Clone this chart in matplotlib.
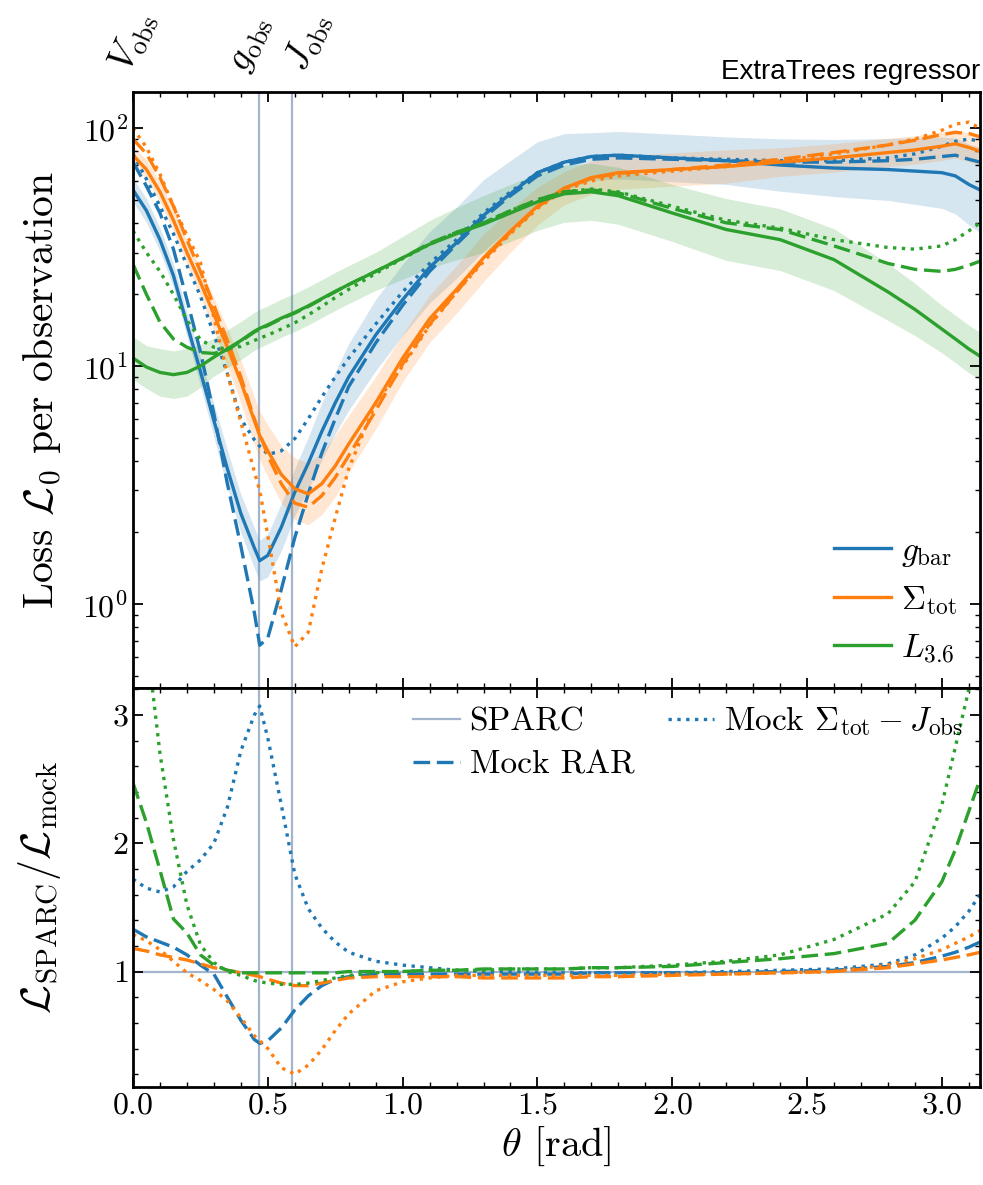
import numpy as np
import matplotlib.pyplot as plt
from matplotlib.ticker import MultipleLocator, LogLocator, NullFormatter

plt.rcParams.update({
    'font.family': 'serif',
    'font.serif': ['cmr10'],
    'mathtext.fontset': 'cm',
    'axes.formatter.use_mathtext': True,
    'axes.linewidth': 2.0,
    'xtick.direction': 'in',
    'ytick.direction': 'in',
    'xtick.top': True,
    'ytick.right': True,
    'xtick.major.size': 7,
    'ytick.major.size': 7,
    'xtick.minor.size': 3.5,
    'ytick.minor.size': 3.5,
    'xtick.major.width': 1.3,
    'ytick.major.width': 1.3,
    'xtick.minor.width': 1.0,
    'ytick.minor.width': 1.0,
    'xtick.labelsize': 23,
    'ytick.labelsize': 23,
})

# angle grid (rad)
theta = [0, 0.05, 0.1, 0.15, 0.2, 0.25, 0.3, 0.35, 0.4, 0.45, 0.47, 0.5, 0.55, 0.6, 0.65,
         0.7, 0.75, 0.8, 0.9, 1.0, 1.1, 1.2, 1.3, 1.4, 1.5, 1.6, 1.7, 1.8, 2.0, 2.2, 2.4,
         2.6, 2.8, 2.9, 3.0, 3.05, 3.1, 3.14159]

# top panel: loss per observation
gbar_sparc = [55, 45, 34, 24, 15, 9.5, 5.9, 3.7, 2.4, 1.72, 1.52, 1.6, 2.1, 2.95, 3.9,
              5.3, 7.0, 9.0, 13.5, 19, 26, 33, 43, 53, 65, 72, 76, 77, 75, 73, 70,
              68, 67, 66, 65, 63, 58, 55]
gbar_rar = [72, 57, 44, 31, 19, 11.5, 6.3, 3.2, 1.75, 0.92, 0.67, 0.72, 1.15, 1.9, 2.9,
            4.3, 6.0, 8.2, 12.5, 18, 25, 32.5, 42, 52, 63, 70, 74, 75, 74, 73, 72,
            72, 73, 74, 76, 77, 74, 72]
gbar_mock2 = [78, 61, 47, 36, 26.5, 19.7, 13.6, 9.3, 6.0, 4.9, 4.6, 4.25, 4.4, 4.95, 6.0,
              7.4, 9.0, 10.8, 15, 20.5, 27, 34, 44, 54, 65, 72, 76, 77, 75, 74, 73,
              73, 75, 78, 84, 88, 90, 88]
sig_sparc = [77, 67, 54, 41, 30, 22.5, 16.5, 12, 8.6, 5.9, 5.1, 4.4, 3.5, 3.05, 2.9,
             3.2, 3.8, 4.7, 7.0, 10.8, 15.8, 21, 28.5, 37, 47, 56, 62, 65, 67, 69, 72,
             75, 79, 81, 84, 86, 83, 80]
sig_rar = [90, 78, 62, 47, 34, 25, 18, 12.8, 9.0, 6.0, 5.2, 4.2, 3.2, 2.65, 2.55,
           2.85, 3.4, 4.2, 6.5, 10.2, 15, 20.5, 28, 36.5, 46.5, 56, 61.5, 64.5, 67, 70, 74,
           79, 85, 89, 94, 96, 95, 92]
sig_mock2 = [100, 83, 64, 47, 35.5, 27.3, 16, 9.3, 5.8, 3.6, 3.0, 1.94, 0.92, 0.66, 0.76,
             1.4, 2.3, 3.7, 7.0, 10, 14.8, 20.5, 27.5, 36, 46, 55, 60, 63, 66, 69, 73,
             78, 85, 90, 98, 104, 106, 100]
lum_sparc = [10.8, 9.9, 9.4, 9.2, 9.4, 10.0, 10.9, 11.8, 12.8, 14.0, 14.4, 14.9, 15.9, 16.8, 17.9,
             19.2, 20.6, 22, 25, 28.5, 32.5, 36, 39.5, 44, 49, 53, 54, 52, 44, 37.5, 34,
             28, 20.5, 17.3, 14.3, 13, 11.8, 11]
lum_rar = [26.8, 20, 15.3, 13.0, 12.0, 11.4, 11.3, 11.7, 12.7, 13.9, 14.3, 14.8, 15.8, 16.7, 17.8,
           19.1, 20.5, 22, 25, 28.5, 32.8, 36.5, 40, 45, 50, 54, 55, 53.5, 46, 40, 37.5,
           32, 27, 25.5, 25, 25.5, 26.5, 27.6]
lum_mock2 = [37, 30, 25, 20, 15.6, 12.9, 12.0, 11.8, 12.1, 12.8, 13.1, 13.5, 14.3, 15.2, 16.4,
             17.8, 19.4, 21, 24.5, 28.3, 32.5, 36.5, 40, 45, 50, 54, 55.5, 54, 47, 41, 38,
             34, 31.5, 31, 32, 34, 37, 40]

# half-width of the SPARC scatter bands (dex)
gbar_band = [0.05, 0.05, 0.05, 0.05, 0.05, 0.06, 0.07, 0.08, 0.08, 0.085, 0.085, 0.09, 0.1, 0.1, 0.11,
             0.12, 0.13, 0.14, 0.15, 0.15, 0.15, 0.15, 0.15, 0.14, 0.13, 0.12, 0.1, 0.1, 0.1, 0.1, 0.11,
             0.12, 0.13, 0.14, 0.15, 0.16, 0.17, 0.18]
sig_band = [0.04, 0.04, 0.04, 0.05, 0.05, 0.06, 0.07, 0.08, 0.09, 0.1, 0.1, 0.11, 0.12, 0.13, 0.13,
            0.13, 0.13, 0.12, 0.11, 0.1, 0.1, 0.1, 0.1, 0.09, 0.08, 0.07, 0.07, 0.07, 0.07, 0.07, 0.06,
            0.06, 0.06, 0.06, 0.06, 0.06, 0.06, 0.06]
lum_band = [0.09, 0.09, 0.1, 0.1, 0.1, 0.09, 0.08, 0.08, 0.08, 0.08, 0.08, 0.08, 0.08, 0.08, 0.08,
            0.08, 0.08, 0.08, 0.08, 0.09, 0.1, 0.11, 0.12, 0.12, 0.12, 0.12, 0.12, 0.12, 0.12, 0.13, 0.13,
            0.13, 0.12, 0.11, 0.1, 0.1, 0.1, 0.1]

# bottom panel: loss ratios
ratio_gbar_rar = [1.33, 1.27, 1.23, 1.19, 1.13, 1.05, 0.98, 0.8, 0.62, 0.47, 0.44, 0.46, 0.56, 0.7, 0.81,
                  0.89, 0.94, 0.96, 0.98, 0.98, 0.98, 0.98, 0.98, 0.98, 0.98, 0.98, 0.99, 0.99, 0.99, 0.99, 1.0,
                  1.01, 1.04, 1.07, 1.12, 1.15, 1.19, 1.23]
ratio_gbar_mock2 = [1.72, 1.65, 1.62, 1.66, 1.78, 1.87, 2.0, 2.28, 2.72, 3.0, 3.07, 2.82, 2.3, 1.76, 1.49,
                    1.34, 1.23, 1.15, 1.08, 1.05, 1.03, 1.01, 1.0, 1.0, 0.99, 0.99, 0.99, 0.99, 0.99, 1.0, 1.01,
                    1.02, 1.06, 1.13, 1.26, 1.35, 1.47, 1.6]
ratio_sig_rar = [1.18, 1.16, 1.13, 1.11, 1.09, 1.06, 1.03, 1.01, 0.99, 0.97, 0.96, 0.94, 0.91, 0.89, 0.89,
                 0.91, 0.93, 0.95, 0.96, 0.96, 0.96, 0.96, 0.95, 0.95, 0.95, 0.95, 0.96, 0.96, 0.97, 0.98, 0.99,
                 1.0, 1.03, 1.06, 1.09, 1.11, 1.13, 1.15]
ratio_sig_mock2 = [1.29, 1.24, 1.17, 1.08, 0.99, 0.93, 0.86, 0.77, 0.64, 0.5, 0.46, 0.4, 0.25, 0.2, 0.27,
                   0.39, 0.54, 0.67, 0.85, 0.92, 0.95, 0.97, 0.97, 0.97, 0.97, 0.97, 0.97, 0.97, 0.98, 0.98, 0.99,
                   1.0, 1.05, 1.1, 1.17, 1.22, 1.27, 1.32]
ratio_lum_rar = [2.47, 2.16, 1.79, 1.41, 1.3, 1.13, 1.05, 1.01, 0.99, 0.99, 0.99, 0.99, 0.99, 0.99, 0.99,
                 0.99, 0.99, 1.0, 1.0, 1.0, 1.01, 1.01, 1.02, 1.02, 1.02, 1.02, 1.03, 1.03, 1.04, 1.07, 1.1,
                 1.14, 1.22, 1.4, 1.7, 1.95, 2.25, 2.5]
ratio_lum_mock2 = [4.5, 3.6, 2.7, 2.03, 1.52, 1.21, 1.07, 1.0, 0.97, 0.93, 0.92, 0.91, 0.9, 0.9, 0.91,
                   0.93, 0.95, 0.97, 0.99, 1.0, 1.01, 1.01, 1.01, 1.02, 1.02, 1.02, 1.03, 1.03, 1.05, 1.08, 1.13,
                   1.25, 1.45, 1.7, 2.3, 2.75, 3.2, 3.6]

# angles of the observed quantities (vertical lines) and where their names sit on top
obs_angles = [0.0, 0.468, 0.591]
obs_label_pos = [0.0, 0.435, 0.648]
obs_labels = [r'$V_\mathrm{obs}$', r'$g_\mathrm{obs}$', r'$J_\mathrm{obs}$']

series = [
    (r'$g_\mathrm{bar}$', 'C0', gbar_sparc, gbar_rar, gbar_mock2, gbar_band, ratio_gbar_rar, ratio_gbar_mock2),
    (r'$\Sigma_\mathrm{tot}$', 'C1', sig_sparc, sig_rar, sig_mock2, sig_band, ratio_sig_rar, ratio_sig_mock2),
    (r'$L_{3.6}$', 'C2', lum_sparc, lum_rar, lum_mock2, lum_band, ratio_lum_rar, ratio_lum_mock2),
]

ref_color = '#a3b5cc'
lw = 2.4
dash = (5, 2)

fig = plt.figure(figsize=(9.83, 11.85), dpi=100)
ax1 = fig.add_axes([0.1353, 0.4194, 0.8617, 0.503])
ax2 = fig.add_axes([0.1353, 0.0827, 0.8617, 0.3367], sharex=ax1)

x = np.array(theta)
for label, c, sparc, rar, mock2, band, r_rar, r_mock2 in series:
    y = np.array(sparc)
    w = 10 ** np.array(band)
    ax1.fill_between(x, y / w, y * w, color=c, alpha=0.18, lw=0)
    ax1.plot(x, y, color=c, lw=lw, label=label)
    ax1.plot(x, rar, color=c, lw=lw, dashes=dash)
    ax1.plot(x, mock2, color=c, lw=lw, ls=':')
    ax2.plot(x, r_rar, color=c, lw=lw, dashes=dash)
    ax2.plot(x, r_mock2, color=c, lw=lw, ls=':')

for a in obs_angles[1:]:
    ax1.axvline(a, color=ref_color, lw=1.6, zorder=0)
    ax2.axvline(a, color=ref_color, lw=1.6, zorder=0)
h_sparc = ax2.axhline(1.0, color=ref_color, lw=1.6, zorder=0)

ax1.set_yscale('log')
ax1.set_ylim(0.443, 142)
ax1.set_xlim(0, np.pi)
ax1.yaxis.set_minor_locator(LogLocator(base=10, subs=np.arange(2, 10) * 0.1, numticks=20))
ax1.yaxis.set_minor_formatter(NullFormatter())
ax1.tick_params(labelbottom=False)
ax1.set_ylabel(r'Loss $\mathcal{L}_0$ per observation', fontsize=30)
ax1.yaxis.set_label_coords(-0.083, 0.5)
ax1.legend(loc='lower right', frameon=False, fontsize=24, handlelength=1.7,
           handletextpad=0.3, labelspacing=0.45, borderaxespad=0.3)

sec = ax1.secondary_xaxis('top')
sec.set_xticks(obs_label_pos, labels=obs_labels)
sec.tick_params(which='both', length=0, pad=11, labelsize=27, labelrotation=66)
sec.spines['top'].set_visible(False)

ax1.text(1.0, 1.012, 'ExtraTrees regressor', transform=ax1.transAxes, ha='right', va='bottom',
         fontsize=20, family='Liberation Sans')

ax2.set_ylim(0.1, 3.21)
ax2.xaxis.set_major_locator(MultipleLocator(0.5))
ax2.xaxis.set_minor_locator(MultipleLocator(0.1))
ax2.yaxis.set_major_locator(MultipleLocator(1))
ax2.yaxis.set_minor_locator(MultipleLocator(0.2))
ax2.set_xlabel(r'$\theta$ [rad]', fontsize=29)
ax2.set_ylabel(r'$\mathcal{L}_\mathrm{SPARC}/\mathcal{L}_\mathrm{mock}$', fontsize=30)
ax2.yaxis.set_label_coords(-0.083, 0.5)

h_rar, = ax2.plot([], [], color='C0', lw=lw, dashes=dash)
h_mock2, = ax2.plot([], [], color='C0', lw=lw, ls=':')
ax2.legend([h_sparc, h_rar, h_mock2],
           ['SPARC', 'Mock RAR', r'Mock $\Sigma_\mathrm{tot}-J_\mathrm{obs}$'],
           loc='upper right', ncol=2, frameon=False, fontsize=24, handlelength=1.4,
           handletextpad=0.3, columnspacing=1.0, borderaxespad=0.1, labelspacing=0.4)

fig.savefig('out.png', dpi=100)
